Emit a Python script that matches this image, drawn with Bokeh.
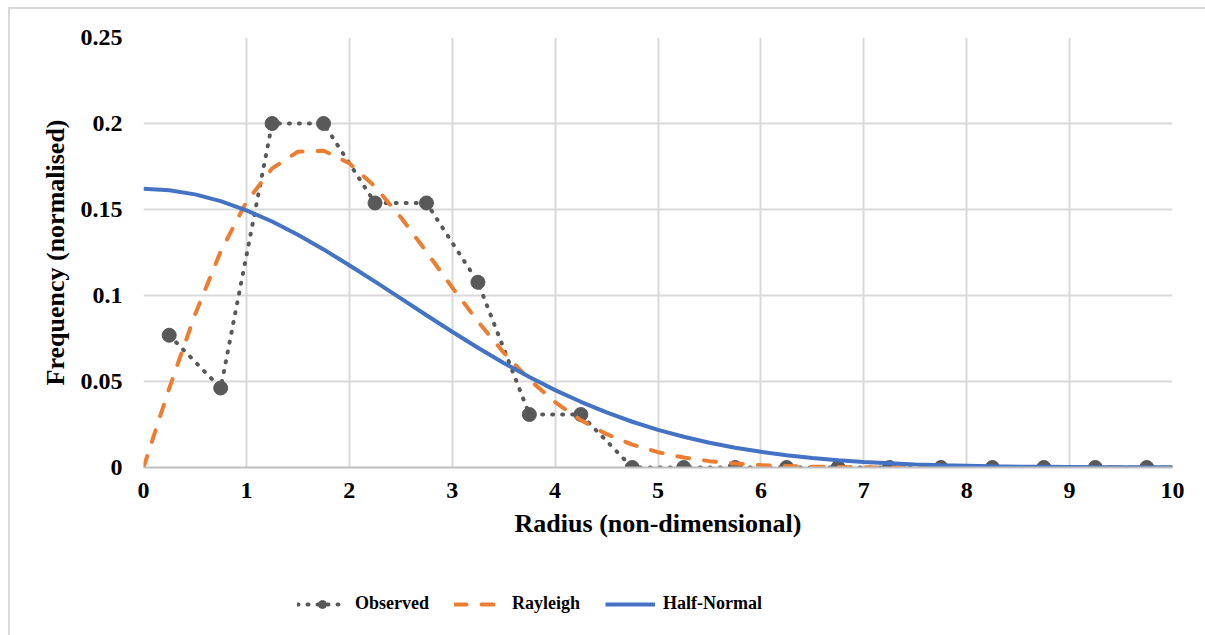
from bokeh.plotting import figure
from bokeh.layouts import column
from bokeh.models import Range1d, FixedTicker, CustomJSTickFormatter, Legend, LegendItem
from bokeh.embed import file_html
from bokeh.resources import INLINE

# Observed histogram (bin centres, normalised frequency)
radius_bins = [0.25, 0.75, 1.25, 1.75, 2.25, 2.75, 3.25, 3.75, 4.25, 4.75,
               5.25, 5.75, 6.25, 6.75, 7.25, 7.75, 8.25, 8.75, 9.25, 9.75]
observed = [0.0769, 0.0462, 0.2, 0.2, 0.1538, 0.1538, 0.1077, 0.0308, 0.0308, 0.0,
            0.0, 0.0, 0.0, 0.0, 0.0, 0.0, 0.0, 0.0, 0.0, 0.0]

# Fitted curves sampled along the radius
curve_x = [0.0, 0.25, 0.5, 0.75, 1.0, 1.25, 1.5, 1.75, 2.0, 2.25, 2.5, 2.75, 3.0,
           3.25, 3.5, 3.75, 4.0, 4.25, 4.5, 4.75, 5.0, 5.25, 5.5, 5.75, 6.0, 6.25,
           6.5, 6.75, 7.0, 7.25, 7.5, 7.75, 8.0, 8.25, 8.5, 8.75, 9.0, 9.25, 9.5,
           9.75, 10.0]
rayleigh = [0.0, 0.046, 0.0888, 0.1256, 0.1544, 0.1739, 0.1836, 0.1842, 0.1769,
            0.1633, 0.1455, 0.1254, 0.1047, 0.0849, 0.0668, 0.0511, 0.038, 0.0275,
            0.0194, 0.0133, 0.0089, 0.0058, 0.0037, 0.0023, 0.0014, 0.0008, 0.0005,
            0.0003, 0.0001, 0.0, 0.0, 0.0, 0.0, 0.0, 0.0, 0.0, 0.0, 0.0, 0.0, 0.0, 0.0]
half_normal = [0.162, 0.1612, 0.1588, 0.1549, 0.1495, 0.143, 0.1353, 0.1268, 0.1176,
               0.1081, 0.0983, 0.0885, 0.0789, 0.0696, 0.0608, 0.0526, 0.045, 0.0382,
               0.0321, 0.0266, 0.0219, 0.0179, 0.0144, 0.0115, 0.0091, 0.0071, 0.0055,
               0.0042, 0.0032, 0.0024, 0.0018, 0.0013, 0.001, 0.0007, 0.0005, 0.0004,
               0.0003, 0.0002, 0.0001, 0.0001, 0.0001]

x_ticks = [0, 1, 2, 3, 4, 5, 6, 7, 8, 9, 10]
y_ticks = [0, 0.05, 0.1, 0.15, 0.2, 0.25]

series_names = ["Observed", "Rayleigh", "Half-Normal"]

FONT = "Liberation Serif"
OBS_COLOR = "#595959"
RAY_COLOR = "#ED7D31"
HN_COLOR = "#4472C4"
EDGE = "#d9d9d9"

obs_line_style = dict(line_color=OBS_COLOR, line_width=4, line_dash="1 9", line_cap="round")
obs_pt_style = dict(size=14, fill_color=OBS_COLOR, line_color=OBS_COLOR)
ray_style = dict(line_color=RAY_COLOR, line_width=4, line_dash="12 15", line_cap="round")
hn_style = dict(line_color=HN_COLOR, line_width=4)

W = 1195

# ---- main chart ----
p = figure(width=W, height=551,
           x_range=Range1d(0, 10), y_range=Range1d(0, 0.25),
           output_backend="svg", toolbar_location=None,
           min_border_left=133, min_border_right=W - 133 - 1029,
           min_border_top=28, min_border_bottom=93)
p.outline_line_color = None
p.background_fill_color = "white"
p.border_fill_color = "white"

p.xaxis.ticker = FixedTicker(ticks=x_ticks)
p.yaxis.ticker = FixedTicker(ticks=y_ticks)
p.yaxis.formatter = CustomJSTickFormatter(code="return tick.toString();")
p.xaxis.axis_label = "Radius (non-dimensional)"
p.yaxis.axis_label = "Frequency (normalised)"
for ax in (p.xaxis, p.yaxis):
    ax.major_tick_line_color = None
    ax.minor_tick_line_color = None
    ax.major_tick_out = 0
    ax.major_label_text_font = FONT
    ax.major_label_text_font_style = "bold"
    ax.major_label_text_font_size = "24px"
    ax.major_label_text_color = "black"
    ax.axis_label_text_font = FONT
    ax.axis_label_text_font_style = "bold"
    ax.axis_label_text_font_size = "26px"
    ax.axis_label_text_color = "black"
p.xaxis.axis_line_color = "#bfbfbf"
p.xaxis.axis_line_width = 2
p.yaxis.axis_line_color = None
p.xaxis.major_label_standoff = 15
p.xaxis.axis_label_standoff = 8
p.yaxis.major_label_standoff = 21
p.yaxis.axis_label_standoff = 8

p.xgrid.grid_line_color = EDGE
p.xgrid.grid_line_width = 2
p.ygrid.grid_line_color = EDGE
p.ygrid.grid_line_width = 2

p.line(radius_bins, observed, **obs_line_style)
p.scatter(radius_bins, observed, **obs_pt_style)
p.line(curve_x, rayleigh, **ray_style)
p.line(curve_x, half_normal, **hn_style)

# ---- legend strip below the chart ----
# key renderers hold one point outside the visible range, so only their legend glyphs show
leg = figure(width=W, height=75, x_range=Range1d(0, 1), y_range=Range1d(0, 1),
             output_backend="svg", toolbar_location=None,
             min_border=0, min_border_left=0, min_border_right=0,
             min_border_top=0, min_border_bottom=0)
leg.axis.visible = False
leg.grid.visible = False
leg.outline_line_color = None
leg.background_fill_color = "white"
leg.border_fill_color = "white"

off = [-10]
k_obs_line = leg.line(off, off, **obs_line_style)
k_obs_pts = leg.scatter(off, off, **obs_pt_style)
k_ray = leg.line(off, off, **ray_style)
k_hn = leg.line(off, off, **hn_style)

legend = Legend(
    items=[LegendItem(label=series_names[0], renderers=[k_obs_line, k_obs_pts]),
           LegendItem(label=series_names[1], renderers=[k_ray]),
           LegendItem(label=series_names[2], renderers=[k_hn])],
    orientation="horizontal", location=(154, 21),
    glyph_width=50, glyph_height=20, label_standoff=8, spacing=25,
    padding=0, margin=0, border_line_color=None, background_fill_alpha=0,
    label_text_font=FONT, label_text_font_style="bold",
    label_text_font_size="18px", label_text_color="black",
)
leg.add_layout(legend, "center")

layout = column(p, leg, spacing=0)
layout.margin = (7, 0, 0, 8)
layout.styles = {"border-top": f"2px solid {EDGE}", "border-left": f"2px solid {EDGE}"}

open("out.html", "w").write(file_html(layout, INLINE))
